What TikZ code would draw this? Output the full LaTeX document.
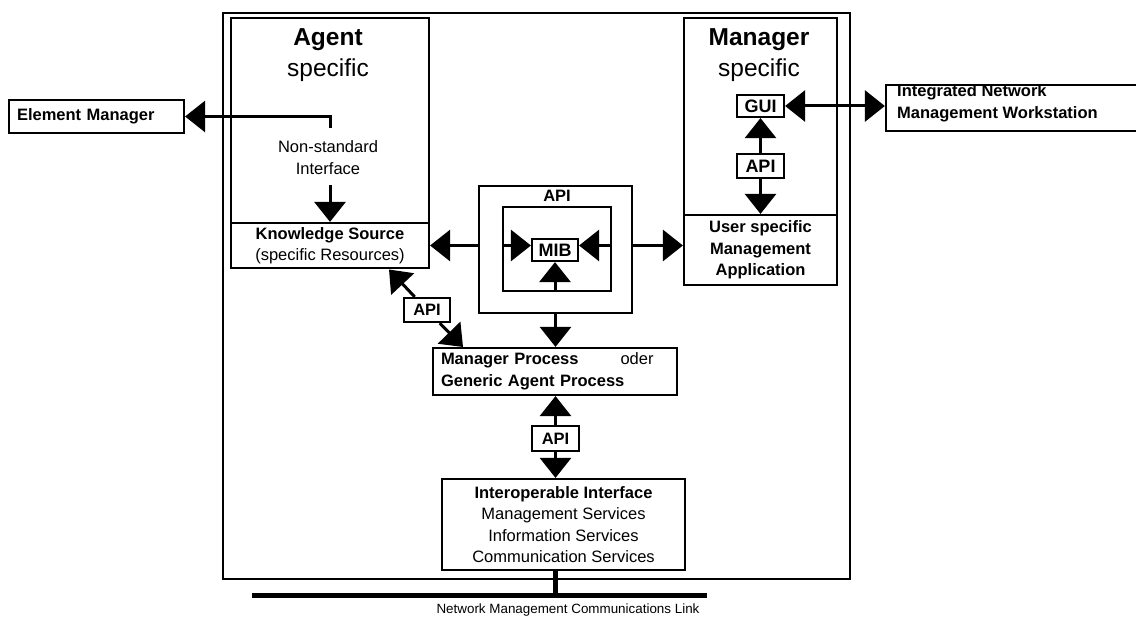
\documentclass[tikz,border=0pt]{standalone}
\usepackage{fontspec}
\setmainfont{Liberation Sans}
\usetikzlibrary{arrows.meta}

% font sizes (1pt = one unit of the drawing grid)
\newcommand{\fbig}{\fontsize{24.5}{30}\selectfont}
\newcommand{\fmid}{\fontsize{16.5}{21.5}\selectfont}
\newcommand{\fkey}{\fontsize{18}{22}\selectfont}
\newcommand{\fsmall}{\fontsize{13.4}{16}\selectfont}

\begin{document}
\begin{tikzpicture}[x=1pt,y=-1pt,
  box/.style={draw, line width=2.2pt, inner sep=0pt, font=\fmid},
  keybox/.style={box, font=\fkey\bfseries},
  conn/.style={line width=3pt},
  tip/.style={-{Triangle[length=20pt,width=31pt]}},
  twotips/.style={{Triangle[length=20pt,width=31pt]}-{Triangle[length=20pt,width=31pt]}},
  title/.style={anchor=base, font=\fbig},
  label/.style={font=\fmid}]
\useasboundingbox (0,0) rectangle (1136,617);

% enclosing system frame
\node[box, minimum width=627pt, minimum height=566pt] (system) at (536.5,296) {};

% agent side
\node[box, minimum width=198pt, minimum height=205pt] (agent) at (330,120.5) {};
\node[title, font=\fbig\bfseries] (agentT) at (328,46) {Agent};
\node[title] (agentS) at (328,77) {specific};
\node[label, align=center] (nitext) at (328,157.5) {Non-standard\\Interface};
\node[box, minimum width=198pt, minimum height=45pt, align=center] (ks) at (330,245.5)
  {\textbf{Knowledge Source}\\(specific Resources)};

% manager side
\node[box, minimum width=153pt, minimum height=197pt] (manager) at (760.5,116.5) {};
\node[title, font=\fbig\bfseries] (managerT) at (759,46) {Manager};
\node[title] (managerS) at (759,77) {specific};
\node[keybox, minimum width=47pt, minimum height=22pt] (gui) at (760.5,106) {GUI};
\node[keybox, minimum width=47pt, minimum height=24pt] (apim) at (760.5,166) {API};
\node[box, minimum width=153pt, minimum height=70pt, align=center, font=\fmid\bfseries] (user) at (760.5,250)
  {User specific\\Management\\Application};

% external systems
\node[box, minimum width=175pt, minimum height=33pt, inner xsep=8pt, text width=159pt,
  align=left, font=\fmid\bfseries] (em) at (96.5,116.5) {Element Manager};
\node[box, minimum width=256pt, minimum height=46pt] (inm) at (1014,108) {};
\node[anchor=base west, font=\fmid\bfseries, inner sep=0pt] (inmA) at (897,96.7) {Integrated Network};
\node[anchor=base west, font=\fmid\bfseries, inner sep=0pt] (inmB) at (897,118.3) {Management Workstation};

% central API with MIB
\node[box, minimum width=153pt, minimum height=127pt] (apiout) at (555.5,249.5) {};
\node[label, font=\fmid\bfseries] (apiT) at (557,196) {API};
\node[box, minimum width=108pt, minimum height=84pt] (inner) at (557,249) {};
\node[box, minimum width=46pt, minimum height=22pt, font=\fkey\bfseries] (mib) at (555,250) {MIB};

% processes and interfaces
\node[box, minimum width=46pt, minimum height=24pt, font=\fmid\bfseries] (apid) at (427,310) {API};
\node[box, minimum height=47pt, inner xsep=8pt, text width=228pt, align=left] (mp) at (555,371.5)
  {\textbf{Manager Process}\hspace{42pt}oder\\\textbf{Generic Agent Process}};
\node[box, minimum width=47pt, minimum height=25pt, font=\fmid\bfseries] (api2) at (555.5,438.5) {API};
\node[box, minimum width=243pt, minimum height=91pt, align=center] (io) at (563.5,524.5)
  {\textbf{Interoperable Interface}\\Management Services\\Information Services\\Communication Services};

% communications link
\node[fill, minimum width=455pt, minimum height=5pt, inner sep=0pt, outer sep=0pt] (bar) at (479.5,595.5) {};
\node[font=\fsmall] (linkT) at (568,610) {Network Management Communications Link};

% free connector ends
\coordinate (nis) at (330,128);
\coordinate (nid) at (330,185);
\coordinate (ksd) at (389,269.5);
\coordinate (mpd) at (463,347);

% connectors
\draw[conn,tip] (nis) |- (em.east);
\draw[conn,tip] (nid) -- (ks.north);
\draw[conn,tip] (apiout.west |- ks.east) -- (ks.east);
\draw[conn,tip] (inner.west |- ks.east) -- (mib.west |- ks.east);
\draw[conn,tip] (inner.east |- ks.east) -- (mib.east |- ks.east);
\draw[conn,tip] (inner.south -| mib.south) -- (mib.south);
\draw[conn,tip] (apiout.east |- ks.east) -- (user.west |- ks.east);
\draw[conn,tip] (apiout.south) -- (apiout.south |- mp.north);
\draw[conn,tip] (apim.north) -- (gui.south);
\draw[conn,tip] (apim.south) -- (user.north);
\draw[conn,twotips] (gui.east) -- (gui.east -| inm.west);
\draw[conn,tip] (apid) -- (ksd);
\draw[conn,tip] (apid) -- (mpd);
\draw[conn,tip] (api2.north) -- (api2.north |- mp.south);
\draw[conn,tip] (api2.south) -- (api2.south |- io.north);
\draw[line width=5pt] (api2.south |- io.south) -- (api2.south |- bar.north);
\end{tikzpicture}
\end{document}
